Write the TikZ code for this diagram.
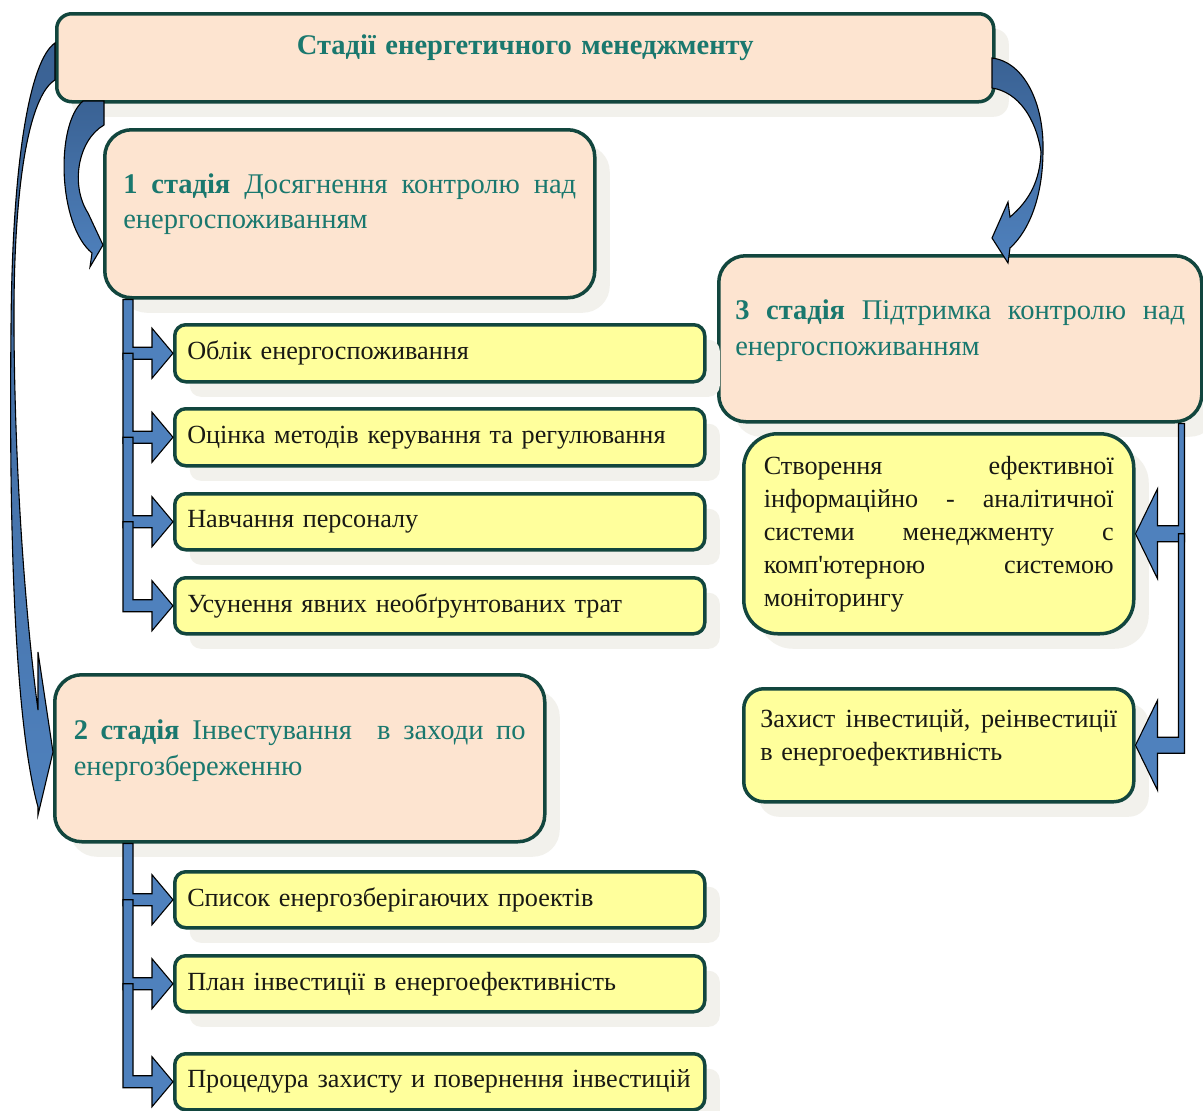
\documentclass[tikz,border=0pt]{standalone}
\usepackage{fontspec}
\setmainfont{Liberation Serif}
\newfontfamily\plainserif{Liberation Serif}
\usetikzlibrary{shadows,calc}
\definecolor{peach}{RGB}{253,228,208}
\definecolor{yellowc}{RGB}{255,255,156}
\definecolor{bordc}{RGB}{18,70,62}
\definecolor{tealtxt}{RGB}{26,120,110}
\definecolor{shadowc}{RGB}{242,241,236}
\definecolor{arrowblue}{RGB}{79,129,189}
\definecolor{arrowdark}{RGB}{58,98,148}
\definecolor{textdark}{RGB}{25,25,20}
\tikzset{
  basebox/.style={draw=bordc, line width=3.5pt, anchor=north west, inner ysep=0pt,
    drop shadow={shadow xshift=15pt, shadow yshift=-15pt, fill=shadowc, opacity=1, draw=none}},
  titlebox/.style={basebox, fill=peach, rounded corners=15pt, text=tealtxt,
    font=\fontsize{28.5}{33}\selectfont\bfseries, align=center},
  stagebox/.style={basebox, fill=peach, rounded corners=27pt, text=tealtxt,
    font=\fontsize{28.5}{35.5}\selectfont, align=left},
  itembox/.style={basebox, fill=yellowc, rounded corners=11pt, text=textdark,
    font=\fontsize{26.2}{33}\selectfont, align=left, inner xsep=12.5pt, text width=505pt,
    minimum width=530pt},
  sidebox/.style={basebox, fill=yellowc, text=textdark,
    font=\fontsize{26.2}{33}\selectfont, align=left, minimum width=390pt},
  elbow/.style={draw=black, line width=1.1pt, fill=arrowblue, line join=miter},
  curvearrow/.style={draw=black, line width=1.1pt, top color=arrowdark, bottom color=arrowblue, line join=miter}
}
\newcommand\elbowR[2]{%
  \path[elbow] let \p1=(#1), \p2=(#2.west) in
    (\x2-50pt,\y1) -- (\x2-40pt,\y1) -- (\x2-40pt,\y2+6pt) -- (\x2-21pt,\y2+6pt)
    -- (\x2-21pt,\y2+25pt) -- (\x2,\y2) -- (\x2-21pt,\y2-25pt) -- (\x2-21pt,\y2-6pt)
    -- (\x2-50pt,\y2-6pt) -- cycle;}
\newcommand\elbowL[2]{%
  \path[elbow] let \p1=(#1), \p2=(#2.east) in
    (\x2+43pt,\y1) -- (\x2+49pt,\y1) -- (\x2+49pt,\y2-8pt) -- (\x2+22pt,\y2-8pt)
    -- (\x2+22pt,\y2-45pt) -- (\x2,\y2) -- (\x2+22pt,\y2+45pt) -- (\x2+22pt,\y2+8pt)
    -- (\x2+43pt,\y2+8pt) -- cycle;}
\begin{document}
\begin{tikzpicture}[x=1pt,y=-1pt]
\useasboundingbox[fill=white] (0,0) rectangle (1203,1111);

% boxes
\node[titlebox, minimum width=937pt, minimum height=88pt, text width=900pt, inner xsep=18.5pt]
  (title) at (55,12) {Стадії енергетичного менеджменту\par\vspace{20pt}};

\node[stagebox, minimum width=490pt, minimum height=168pt, text width=453pt, inner xsep=18.5pt]
  (s1) at (103,128) {\textbf{1}\hfill\textbf{стадія}\hfill Досягнення\hfill контролю\hfill над\\енергоспоживанням\par\vspace{19pt}};

\node[stagebox, minimum width=483pt, minimum height=166pt, text width=450pt, inner xsep=16.5pt]
  (s3) at (717,254) {\textbf{3}\hfill\textbf{стадія}\hfill Підтримка\hfill контролю\hfill над\\енергоспоживанням\par\vspace{16pt}};

\node[itembox, minimum height=57pt] (a1) at (173,323) {Облік енергоспоживання};
\node[itembox, minimum height=57pt] (a2) at (173,407) {Оцінка методів керування та регулювання};
\node[itembox, minimum height=56pt] (a3) at (173,492) {Навчання персоналу};
\node[itembox, minimum height=56pt] (a4) at (173,576) {Усунення явних необґрунтованих трат};

\node[sidebox, rounded corners=34pt, minimum height=200pt, text width=350pt, inner xsep=20pt]
  (c1) at (742,432) {Створення\hfill ефективної\\інформаційно\hfill -\hfill аналітичної\\системи\hfill менеджменту\hfill с\\комп{\plainserif'}ютерною\hfill системою\\моніторингу};

\node[sidebox, rounded corners=20pt, minimum height=113pt, text width=357pt, inner xsep=16.5pt]
  (c2) at (742,687) {Захист\hfill інвестицій,\hfill реінвестиції\\в енергоефективність\par\vspace{15pt}};

\node[stagebox, minimum width=490pt, minimum height=167pt, text width=452pt, inner xsep=19pt]
  (s2) at (53,673) {\textbf{2}\hfill\textbf{стадія}\hfill Інвестування\hfill\hfill в\hfill заходи\hfill по\\енергозбереженню\par\vspace{15pt}};

\node[itembox, minimum height=56pt] (b1) at (173,870) {Список енергозберігаючих проектів};
\node[itembox, minimum height=56pt] (b2) at (173,954) {План інвестиції в енергоефективність};
\node[itembox, minimum height=56pt] (b3) at (173,1052) {Процедура захисту и повернення інвестицій};

% elbow arrows
\elbowR{s1.south}{a1}
\elbowR{a1.west}{a2}
\elbowR{a2.west}{a3}
\elbowR{a3.west}{a4}
\elbowR{s2.south}{b1}
\elbowR{b1.west}{b2}
\elbowR{b2.west}{b3}
\elbowL{s3.south}{c1}
\elbowL{c1.east}{c2}

% curved arrows
\path[curvearrow] (83,101) -- (104,101) -- (104,125)
  .. controls (78,140) and (70,185) .. (88,213) -- (103,245) -- (90,267) -- (92,253)
  .. controls (58,225) and (55,125) .. (83,101) -- cycle;

\path[curvearrow] (992,58) .. controls (1025,62) and (1044,105) .. (1043,150)
  .. controls (1043,195) and (1030,230) .. (1010,248) -- (1008,263) -- (992,238)
  -- (1008,202) -- (1010,217) .. controls (1030,200) and (1040,180) .. (1041,152)
  .. controls (1036,118) and (1018,92) .. (992,88) -- cycle;

\path[curvearrow] (55,43) .. controls (30,60) and (12,160) .. (11,330)
  .. controls (9,520) and (14,720) .. (38,807) -- (38,815) -- (53,752) -- (38,652) -- (38,710)
  .. controls (26,620) and (15,480) .. (14,330) .. controls (13,180) and (30,95) .. (55,80) -- cycle;
\end{tikzpicture}
\end{document}
